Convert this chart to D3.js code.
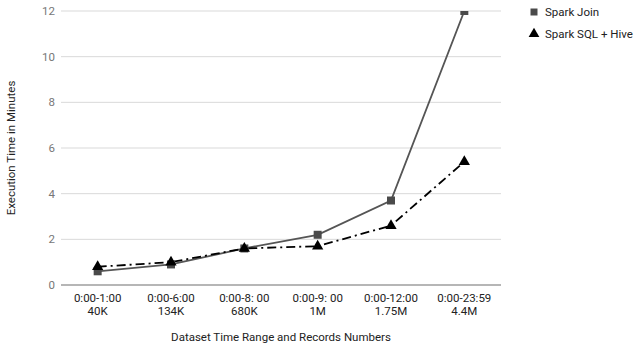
<!DOCTYPE html>
<html><head><meta charset="utf-8">
<script src="https://cdn.jsdelivr.net/npm/d3@7"></script>
<style>body{margin:0;background:#fff;font-family:Roboto,sans-serif}</style>
</head><body><svg id="c" width="634" height="348"></svg>
<script>
const categories = [["0:00-1:00","40K"],["0:00-6:00","134K"],["0:00-8: 00","680K"],["0:00-9: 00","1M"],["0:00-12:00","1.75M"],["0:00-23:59","4.4M"]];
const sparkJoin = [0.6, 0.9, 1.6, 2.2, 3.7, 12];
const sparkSqlHive = [0.8, 1.0, 1.6, 1.7, 2.6, 5.4];
const yTicks = [0, 2, 4, 6, 8, 10, 12];
const seriesNames = ["Spark Join", "Spark SQL + Hive"];

const svg = d3.select("#c");
const pLeft = 61, pRight = 501, pTop = 11, pBottom = 285;
const fs = 11.5;
const x = d3.scalePoint().domain(d3.range(categories.length)).range([pLeft, pRight]).padding(0.5);
const y = d3.scaleLinear().domain([0, 12]).range([pBottom, pTop]);

// gridlines
svg.append("g").selectAll("line").data(yTicks.filter(d=>d>0)).join("line")
  .attr("x1", pLeft).attr("x2", pRight).attr("y1", d=>y(d)).attr("y2", d=>y(d))
  .attr("stroke", "#d9d9d9").attr("stroke-width", 1);
// baseline
svg.append("line").attr("x1", pLeft).attr("x2", pRight).attr("y1", y(0)).attr("y2", y(0))
  .attr("stroke", "#9e9e9e").attr("stroke-width", 1.5);

// y tick labels
svg.append("g").selectAll("text").data(yTicks).join("text")
  .attr("x", 55).attr("y", d=>y(d)+4).attr("text-anchor","end")
  .attr("font-size", fs).attr("fill", "#777").text(d=>d);

// x tick labels
const xl = svg.append("g").selectAll("text").data(categories).join("text")
  .attr("text-anchor","middle").attr("font-size", fs).attr("fill", "#222");
xl.append("tspan").attr("x", (d,i)=>x(i)).attr("y", 302).text(d=>d[0]);
xl.append("tspan").attr("x", (d,i)=>x(i)).attr("y", 315).text(d=>d[1]);

// titles
svg.append("text").attr("x", 281).attr("y", 341).attr("text-anchor","middle")
  .attr("font-size", fs).attr("fill", "#222").text("Dataset Time Range and Records Numbers");
svg.append("text").attr("transform", "translate(15,148) rotate(-90)").attr("text-anchor","middle")
  .attr("font-size", fs).attr("fill", "#222").text("Execution Time in Minutes");

// clip
svg.append("defs").append("clipPath").attr("id","clip").append("rect")
  .attr("x", pLeft-10).attr("y", pTop).attr("width", pRight-pLeft+20).attr("height", pBottom-pTop+10);
const plot = svg.append("g").attr("clip-path","url(#clip)");

const line = d3.line().x((d,i)=>x(i)).y(d=>y(d));
plot.append("path").datum(sparkJoin).attr("d", line).attr("fill","none")
  .attr("stroke","#555").attr("stroke-width",1.8);
plot.append("path").datum(sparkSqlHive).attr("d", line).attr("fill","none")
  .attr("stroke","#000").attr("stroke-width",1.8).attr("stroke-dasharray","9,4,2,4");

const sq = d3.symbol().type(d3.symbolSquare).size(64);
const tri = d3.symbol().type(d3.symbolTriangle).size(55);
plot.append("g").selectAll("path").data(sparkJoin).join("path")
  .attr("d", sq).attr("transform",(d,i)=>`translate(${x(i)},${y(d)})`).attr("fill","#4a4a4a");
plot.append("g").selectAll("path").data(sparkSqlHive).join("path")
  .attr("d", tri).attr("transform",(d,i)=>`translate(${x(i)},${y(d)})`).attr("fill","#000");

// legend
const lg = svg.append("g");
lg.append("path").attr("d", d3.symbol().type(d3.symbolSquare).size(49)).attr("transform","translate(534,12)").attr("fill","#4a4a4a");
lg.append("path").attr("d", d3.symbol().type(d3.symbolTriangle).size(50)).attr("transform","translate(534,34)").attr("fill","#000");
lg.selectAll("text").data(seriesNames).join("text")
  .attr("x", 545).attr("y", (d,i)=>16+i*22).attr("font-size", fs).attr("fill","#222").text(d=>d);
</script></body></html>
